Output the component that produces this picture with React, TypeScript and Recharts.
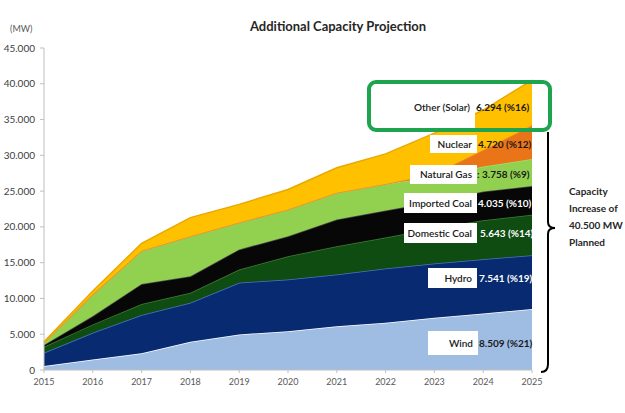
import { AreaChart, Area, XAxis, YAxis } from "recharts";

const years = [2015, 2016, 2017, 2018, 2019, 2020, 2021, 2022, 2023, 2024, 2025];
const wind = [560, 1470, 2330, 3950, 4970, 5430, 6120, 6600, 7300, 7900, 8509];
const hydro = [1840, 3730, 5360, 5450, 7230, 7220, 7230, 7600, 7600, 7580, 7541];
const domesticCoal = [850, 1170, 1530, 1400, 1850, 3250, 3950, 4300, 4900, 5450, 5643];
const importedCoal = [250, 1160, 2800, 2300, 2800, 2800, 3730, 3800, 3700, 4000, 4035];
const naturalGas = [300, 3040, 4650, 5600, 3750, 3730, 3730, 3700, 3500, 3500, 3758];
const nuclear = [0, 0, 0, 0, 0, 0, 0, 0, 400, 2300, 4720];
const solar = [150, 460, 1030, 2600, 2550, 2800, 3500, 4200, 5700, 5600, 6294];
const yTicks = [0, 5000, 10000, 15000, 20000, 25000, 30000, 35000, 40000, 45000];

const series = [
  { key: "wind", name: "Wind", values: wind, fill: "#9fbce3", stroke: "#ffffff", valueColor: "#1a1a1a" },
  { key: "hydro", name: "Hydro", values: hydro, fill: "#082a70", stroke: "#4d72c2", valueColor: "#ffffff" },
  { key: "domesticCoal", name: "Domestic Coal", values: domesticCoal, fill: "#0f4c12", stroke: "#3f7d33", valueColor: "#ffffff" },
  { key: "importedCoal", name: "Imported Coal", values: importedCoal, fill: "#070707", stroke: "#4a4a4a", valueColor: "#ffffff" },
  { key: "naturalGas", name: "Natural Gas", values: naturalGas, fill: "#92d050", stroke: "#a9dc6e", valueColor: "#1a1a1a" },
  { key: "nuclear", name: "Nuclear", values: nuclear, fill: "#ea7418", stroke: "#f08a2e", valueColor: "#1a1a1a" },
  { key: "solar", name: "Other (Solar)", values: solar, fill: "#ffc000", stroke: "#e8a800", valueColor: "#1a1a1a" },
];

const data = years.map((year, i) => {
  const row: Record<string, number> = { year };
  series.forEach(s => { row[s.key] = s.values[i]; });
  return row;
});

const total = series.reduce((sum, s) => sum + s.values[s.values.length - 1], 0);

function fmt(v: number): string {
  if (v < 1000) return String(v);
  const th = Math.floor(v / 1000);
  const rest = String(v % 1000).padStart(3, "0");
  return `${th}.${rest}`;
}

// annotation boxes (layout only)
const boxes: Record<string, { x: number; y: number; w: number; h: number; vx: number; prefix?: string }> = {
  solar: { x: 373, y: 86, w: 102, h: 42, vx: 476 },
  nuclear: { x: 430, y: 135, w: 47, h: 18, vx: 478 },
  naturalGas: { x: 410, y: 165, w: 67, h: 19, vx: 477, prefix: ": " },
  importedCoal: { x: 404, y: 193, w: 73, h: 20, vx: 478 },
  domesticCoal: { x: 404, y: 223, w: 73, h: 20, vx: 480 },
  hydro: { x: 428, y: 268, w: 49, h: 20, vx: 479 },
  wind: { x: 428, y: 331, w: 50, h: 24, vx: 479 },
};

const font = "Lato, 'Open Sans', sans-serif";

export default function App() {
  return (
    <div style={{ position: "relative", width: 625, height: 413, background: "#fff", fontFamily: font }}>
      <style>{"body{margin:0}"}</style>
      <AreaChart width={625} height={413} data={data} margin={{ top: 48, right: 93, left: 0, bottom: 13 }}>
        <XAxis
          dataKey="year" type="number" domain={[2015, 2025]} ticks={years}
          height={30} tickSize={3} tickMargin={6}
          stroke="#bfbfbf" tick={{ fontSize: 9, fill: "#595959", fontFamily: font }}
        />
        <YAxis
          type="number" domain={[0, 45000]} ticks={yTicks} width={44}
          tickSize={4} tickMargin={5} tickFormatter={fmt}
          stroke="#bfbfbf" tick={{ fontSize: 10, fill: "#404040", fontFamily: font }}
        />
        {series.map(s => (
          <Area
            key={s.key} type="linear" dataKey={s.key} stackId="a"
            fill={s.fill} fillOpacity={1} stroke={s.stroke} strokeWidth={1.5}
            isAnimationActive={false}
          />
        ))}
      </AreaChart>

      <svg width={625} height={413} style={{ position: "absolute", left: 0, top: 0, pointerEvents: "none" }}>
        <text x={338} y={31} textAnchor="middle" fontSize={13} fontWeight={700} fill="#262626">
          Additional Capacity Projection
        </text>
        <text x={10} y={32} fontSize={9} fill="#595959">(MW)</text>

        {series.map(s => {
          const b = boxes[s.key];
          const last = s.values[s.values.length - 1];
          const pct = Math.round((last / total) * 100);
          return (
            <g key={s.key}>
              <rect x={b.x} y={b.y} width={b.w} height={b.h} fill="#ffffff" />
              <text x={b.x + b.w - 5} y={b.y + b.h / 2 + 3.5} textAnchor="end" fontSize={10} fontWeight={600} fill="#1a1a1a">
                {s.name}
              </text>
              <text x={b.vx} y={b.y + b.h / 2 + 3.5} fontSize={10} fontWeight={700} fill={s.valueColor}>
                {(b.prefix ?? "") + `${fmt(last)} (%${pct})`}
              </text>
            </g>
          );
        })}

        <rect x={369} y={82} width={181} height={48} rx={7} fill="none" stroke="#1ea34f" strokeWidth={4} />

        <path d="M541 372 Q548 372 548 364 L548 234 Q548 228 555 228 Q548 228 548 222 L548 132" fill="none" stroke="#000" strokeWidth={2} />

        <g fontSize={10} fontWeight={700} fill="#262626">
          <text x={569} y={195}>Capacity</text>
          <text x={569} y={212}>Increase of</text>
          <text x={569} y={229}>{`${fmt(total)} MW`}</text>
          <text x={569} y={246}>Planned</text>
        </g>
      </svg>
    </div>
  );
}
